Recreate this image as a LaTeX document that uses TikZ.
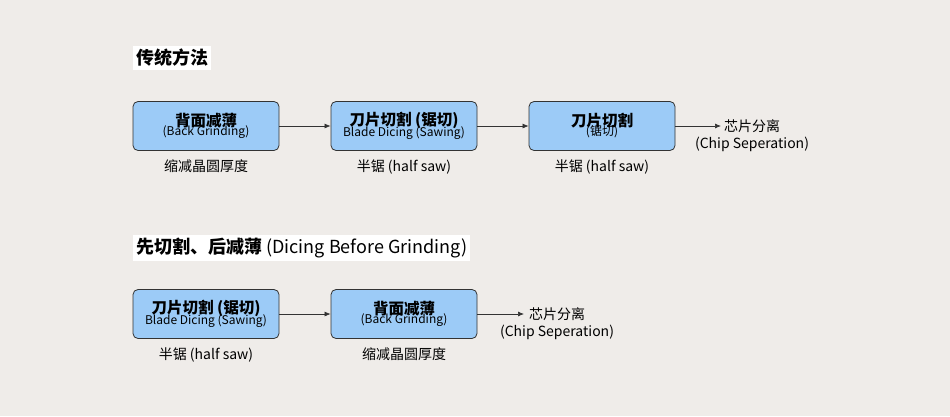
\documentclass[tikz,border=0pt]{standalone}
\usepackage{fontspec}
\setmainfont{Noto Sans CJK SC}
\usetikzlibrary{positioning,arrows.meta}
\definecolor{bg}{HTML}{EFECE9}
\definecolor{boxfill}{HTML}{9CCBF7}
\tikzset{
  stepbox/.style={draw=black!80,fill=boxfill,rounded corners=5pt,minimum width=146pt,minimum height=49pt,align=center,inner sep=1pt,line width=0.8pt},
  note/.style={font=\fontsize{14}{17}\selectfont},
  title/.style={fill=white,inner sep=3pt,font=\fontsize{18}{21}\selectfont\bfseries},
  flow/.style={-{Latex[length=6pt,width=5pt]},black!80,line width=0.7pt},
}
\newcommand{\twoline}[2]{{\fontsize{15.5}{18}\selectfont\bfseries #1}\\[-3pt]{\fontsize{12}{14}\selectfont #2}}
\begin{document}
\begin{tikzpicture}[x=1pt,y=-1pt]
\fill[bg] (0,0) rectangle (950,416);
\useasboundingbox (0,0) rectangle (950,416);

% traditional
\node[title,anchor=west] (t1) at (133,58) {传统方法};
\node[stepbox] (a1) at (206,126) {\twoline{背面减薄}{(Back Grinding)}};
\node[stepbox] (a2) at (404,126) {\twoline{刀片切割 (锯切)}{Blade Dicing (Sawing)}};
\node[stepbox] (a3) at (602,126) {\twoline{刀片切割}{(锯切)}};
\coordinate (a4) at (721,126);
\node[note,align=center] (c1) at (752,136) {芯片分离\\(Chip Seperation)};
\draw[flow] (a1) -- (a2);
\draw[flow] (a2) -- (a3);
\draw[flow] (a3) -- (a4);
\node[note,below=5pt of a1] (n1) {缩减晶圆厚度};
\node[note,below=5pt of a2] (n2) {半锯 (half saw)};
\node[note,below=5pt of a3] (n3) {半锯 (half saw)};

% dicing before grinding
\node[title,anchor=west] (t2) at (133,248) {先切割、后减薄 \mdseries(Dicing Before Grinding)};
\node[stepbox] (b1) at (206,314) {\twoline{刀片切割 (锯切)}{Blade Dicing (Sawing)}};
\node[stepbox] (b2) at (404,314) {\twoline{背面减薄}{(Back Grinding)}};
\coordinate (b3) at (524,314);
\node[note,align=center] (c2) at (557,324) {芯片分离\\(Chip Seperation)};
\draw[flow] (b1) -- (b2);
\draw[flow] (b2) -- (b3);
\node[note,below=5pt of b1] (m1) {半锯 (half saw)};
\node[note,below=5pt of b2] (m2) {缩减晶圆厚度};
\end{tikzpicture}
\end{document}
